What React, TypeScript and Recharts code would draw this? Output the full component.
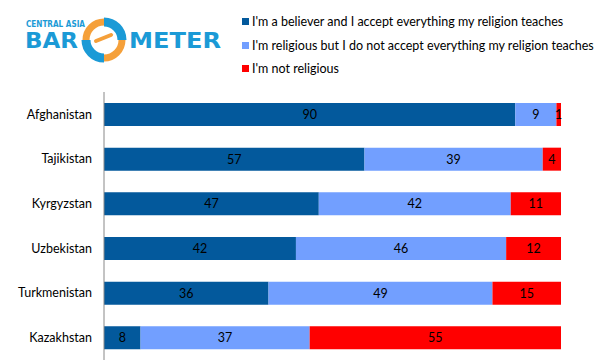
import React from 'react';
import { BarChart, Bar, XAxis, YAxis, LabelList } from 'recharts';

const countries = ['Afghanistan', 'Tajikistan', 'Kyrgyzstan', 'Uzbekistan', 'Turkmenistan', 'Kazakhstan'];
const believerAll = [90, 57, 47, 42, 36, 8];
const religiousNotAll = [9, 39, 42, 46, 49, 37];
const notReligious = [1, 4, 11, 12, 15, 55];

const seriesNames = [
  "I'm a believer and I accept everything my religion teaches",
  "I'm religious but I do not accept everything my religion teaches",
  "I'm not religious",
];
const seriesColors = ['#03599C', '#729FFF', '#FF0000'];

const data = countries.map((country, i) => ({
  country,
  believer: believerAll[i],
  religious: religiousNotAll[i],
  notReligious: notReligious[i],
}));

const FONT = 'Lato, "Open Sans", sans-serif';

function Logo() {
  const blue = '#1B9AD6';
  const orange = '#F5A03A';
  const cx = 104;
  const cy = 40;
  const arc = (r: number, a0: number, a1: number) => {
    const rad = (a: number) => (a * Math.PI) / 180;
    const x0 = cx + r * Math.cos(rad(a0));
    const y0 = cy + r * Math.sin(rad(a0));
    const x1 = cx + r * Math.cos(rad(a1));
    const y1 = cy + r * Math.sin(rad(a1));
    return `M${x0},${y0} A${r},${r} 0 0 1 ${x1},${y1}`;
  };
  return (
    <svg width={240} height={70} style={{ position: 'absolute', left: 0, top: 0 }}>
      <text x={26} y={27} fontFamily="'DejaVu Sans', sans-serif" fontWeight={700} fontSize={8}
        fill={blue} textLength={59} lengthAdjust="spacingAndGlyphs">
        CENTRAL ASIA
      </text>
      <text x={25} y={48} fontFamily="'DejaVu Sans', sans-serif" fontWeight={700} fontSize={21}
        fill={blue} textLength={53} lengthAdjust="spacingAndGlyphs">
        BAR
      </text>
      <path d={arc(18, 180, 270)} stroke={orange} strokeWidth={7} fill="none" />
      <path d={arc(18, -90, 0)} stroke={blue} strokeWidth={9} fill="none" />
      <path d={arc(18, 0, 90)} stroke={orange} strokeWidth={7} fill="none" />
      <path d={arc(18, 90, 180)} stroke={blue} strokeWidth={9} fill="none" />
      <line x1={cx - 8} y1={cy + 1} x2={cx + 7} y2={cy - 5} stroke={orange} strokeWidth={4} strokeLinecap="round" />
      <text x={129} y={48} fontFamily="'DejaVu Sans', sans-serif" fontWeight={700} fontSize={21}
        fill={blue} textLength={92} lengthAdjust="spacingAndGlyphs">
        METER
      </text>
    </svg>
  );
}

function LegendBox() {
  return (
    <div style={{ position: 'absolute', left: 242, top: 10, fontFamily: FONT, fontSize: 12.5, color: '#000' }}>
      {seriesNames.map((name, i) => (
        <div key={name} style={{ display: 'flex', alignItems: 'center', height: 23.5, whiteSpace: 'nowrap' }}>
          <span style={{ width: 7, height: 7, background: seriesColors[i], marginRight: 3, display: 'inline-block' }} />
          <span>{name}</span>
        </div>
      ))}
    </div>
  );
}

export default function App() {
  return (
    <div style={{ position: 'absolute', left: 0, top: 0, width: 606, height: 364, background: '#fff' }}>
      <Logo />
      <LegendBox />
      <BarChart
        width={606}
        height={364}
        data={data}
        layout="vertical"
        margin={{ top: 92, right: 45, bottom: 4, left: 0 }}
        barSize={23}
      >
        <XAxis type="number" domain={[0, 100]} hide />
        <YAxis
          type="category"
          dataKey="country"
          width={104}
          tickLine={false}
          tickSize={0}
          tickMargin={12}
          axisLine={{ stroke: '#888' }}
          tick={{ fontSize: 12.5, fill: '#000', fontFamily: FONT }}
        />
        <Bar dataKey="believer" stackId="a" fill={seriesColors[0]} name={seriesNames[0]} isAnimationActive={false}>
          <LabelList dataKey="believer" position="center" fill="#000" fontSize={12.5} fontFamily={FONT} />
        </Bar>
        <Bar dataKey="religious" stackId="a" fill={seriesColors[1]} name={seriesNames[1]} isAnimationActive={false}>
          <LabelList dataKey="religious" position="center" fill="#000" fontSize={12.5} fontFamily={FONT} />
        </Bar>
        <Bar dataKey="notReligious" stackId="a" fill={seriesColors[2]} name={seriesNames[2]} isAnimationActive={false}>
          <LabelList dataKey="notReligious" position="center" fill="#000" fontSize={12.5} fontFamily={FONT} />
        </Bar>
      </BarChart>
    </div>
  );
}
